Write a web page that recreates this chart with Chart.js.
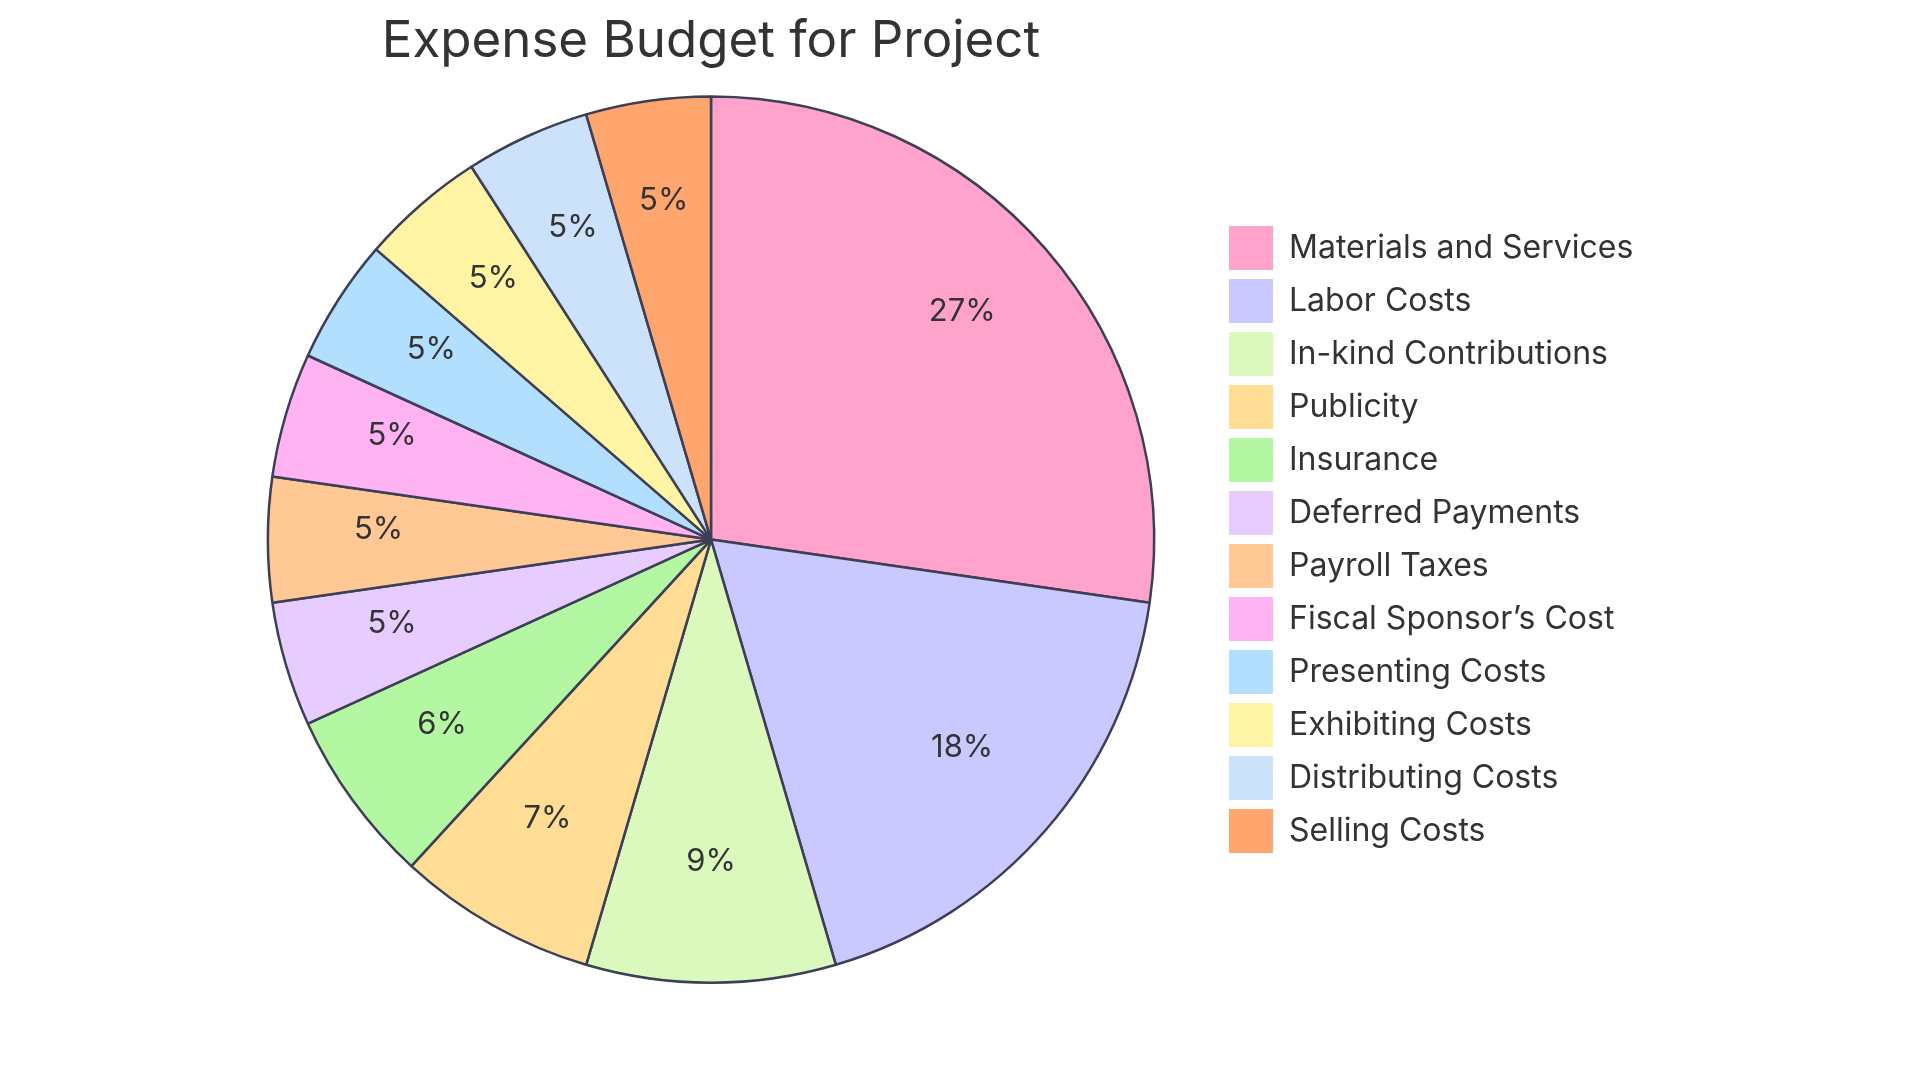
<!DOCTYPE html>
<html>
<head>
<meta charset="utf-8">
<title>Expense Budget for Project</title>
<script src="https://cdn.jsdelivr.net/npm/chart.js@4.4.1/dist/chart.umd.min.js"></script>
<style>
  html, body { margin: 0; padding: 0; background: #ffffff; }
</style>
</head>
<body>
<canvas id="budgetPie" width="1920" height="1080"></canvas>
<script>
const categories = [
  'Materials and Services', 'Labor Costs', 'In-kind Contributions', 'Publicity',
  'Insurance', 'Deferred Payments', 'Payroll Taxes', 'Fiscal Sponsor\u2019s Cost',
  'Presenting Costs', 'Exhibiting Costs', 'Distributing Costs', 'Selling Costs'
];
const amounts = [30000, 20000, 10000, 8000, 7000, 5000, 5000, 5000, 5000, 5000, 5000, 5000];
const sliceColors = [
  '#ffa2cc', '#c9c9ff', '#dbf9bd', '#ffdd94', '#b3f7a3', '#e6ccff',
  '#ffc894', '#ffb3f3', '#b3dfff', '#fff4a3', '#cce2fa', '#ffa56e'
];

const FONT = 'Inter, "Noto Sans", sans-serif';
const TEXT = '#333333';
const EDGE = '#3d3f57';

// percent labels at 3/4 of the radius (sit a bit high, like the original)
const pctLabels = {
  id: 'pctLabels',
  afterDatasetsDraw(chart) {
    const ctx = chart.ctx;
    const meta = chart.getDatasetMeta(0);
    const data = chart.data.datasets[0].data;
    const total = data.reduce((a, b) => a + b, 0);
    ctx.save();
    ctx.font = '400 31px ' + FONT;
    ctx.fillStyle = TEXT;
    ctx.textAlign = 'center';
    ctx.textBaseline = 'middle';
    meta.data.forEach((arc, i) => {
      const p = arc.getProps(['x', 'y', 'startAngle', 'endAngle', 'outerRadius'], true);
      const mid = (p.startAngle + p.endAngle) / 2;
      const r = p.outerRadius * 0.75;
      ctx.fillText(Math.round(data[i] / total * 100) + '%', p.x + Math.cos(mid) * r, p.y + Math.sin(mid) * r - 10);
    });
    ctx.restore();
  }
};

const chart = new Chart(document.getElementById('budgetPie'), {
  type: 'pie',
  data: {
    labels: categories,
    datasets: [{
      data: amounts,
      backgroundColor: sliceColors,
      borderColor: EDGE,
      borderWidth: 2.5
    }]
  },
  options: {
    responsive: false,
    animation: false,
    layout: { padding: { left: 202, right: 0, top: 0, bottom: 96 } },
    plugins: {
      title: {
        display: true,
        text: 'Expense Budget for Project',
        fullSize: false,
        color: TEXT,
        font: { family: FONT, size: 51, weight: 400 },
        padding: { top: 11, bottom: 23 }
      },
      legend: {
        position: 'right',
        align: 'center',
        fullSize: false,
        labels: {
          boxWidth: 44,
          boxHeight: 44,
          padding: 9,
          color: TEXT,
          font: { family: FONT, size: 32 },
          generateLabels(c) {
            const items = Chart.overrides.doughnut.plugins.legend.labels.generateLabels(c);
            items.forEach(it => { it.lineWidth = 0; });
            return items;
          }
        }
      },
      tooltip: { enabled: false }
    }
  },
  plugins: [pctLabels]
});

// put the legend's left edge where the reference has it (boxes start at x=1229)
chart.options.layout.padding.right = 1920 - 1220 - chart.legend.width;
chart.update();
</script>
</body>
</html>
